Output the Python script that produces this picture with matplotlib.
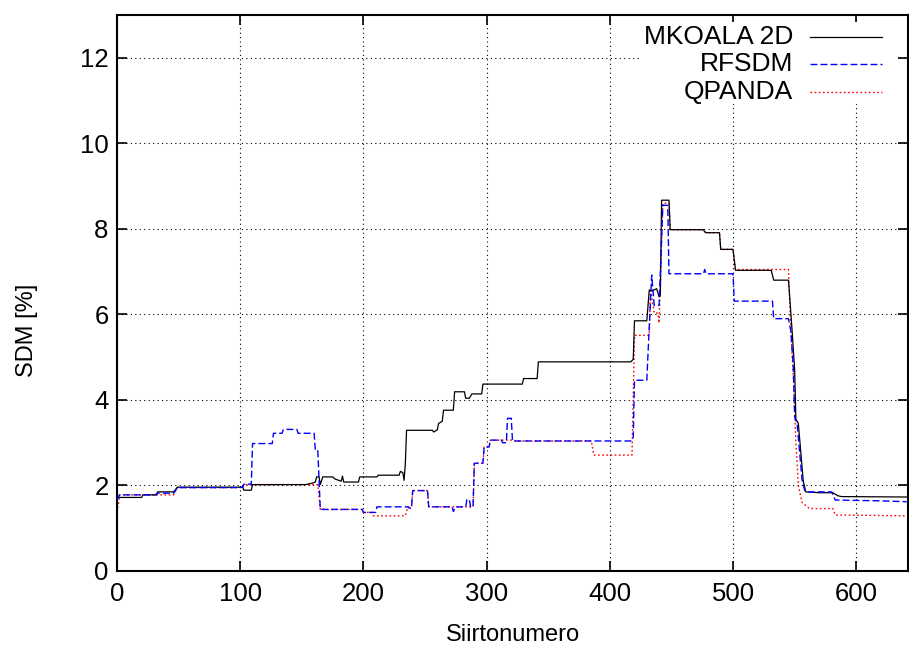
import matplotlib
matplotlib.use("Agg")
import matplotlib.pyplot as plt
from matplotlib.patches import Rectangle

plt.rcParams['font.family'] = ['Liberation Sans', 'DejaVu Sans']

# ---------------- data ----------------
mkoala_x = [0, 20, 21, 32, 33, 46, 49, 102, 103, 109, 110, 153, 158, 161, 162, 164, 165, 167, 175, 177,
            180, 182, 183, 184, 196, 197, 211, 212, 229, 230, 232, 233, 234, 235, 256, 257, 260, 261, 264, 265,
            273, 274, 282, 283, 286, 288, 296, 297, 329, 330, 341, 342, 417, 419, 420, 430, 432, 434, 438, 440,
            441, 442, 448, 449, 476, 477, 478, 489, 490, 500, 502, 531, 533, 545, 548, 550, 551, 553, 557, 559,
            570, 581, 585, 588, 641]
mkoala_y = [1.72, 1.72, 1.78, 1.78, 1.85, 1.85, 1.96, 1.96, 1.89, 1.89, 2.02, 2.02, 2.05, 2.08, 2.2, 2.2, 2.02, 2.2, 2.2, 2.15,
            2.12, 2.1, 2.22, 2.08, 2.08, 2.2, 2.2, 2.24, 2.24, 2.33, 2.3, 2.12, 2.5, 3.29, 3.29, 3.25, 3.3, 3.45, 3.5, 3.76,
            3.76, 4.19, 4.19, 4.04, 4.04, 4.14, 4.14, 4.37, 4.37, 4.5, 4.5, 4.89, 4.89, 4.95, 5.85, 5.85, 6.57, 6.55, 6.6, 6.41,
            6.45, 8.67, 8.67, 7.98, 7.98, 7.93, 7.91, 7.91, 7.52, 7.52, 7.03, 7.03, 6.8, 6.8, 5.59, 4.7, 3.55, 3.45, 2.1, 1.85,
            1.83, 1.83, 1.76, 1.74, 1.73]

rfsdm_x = [0, 2, 31, 33, 46, 49, 97, 98, 102, 103, 109, 110, 126, 127, 134, 135, 146, 147, 160, 161,
           163, 165, 199, 200, 210, 211, 236, 237, 239, 240, 252, 253, 272, 273, 275, 283, 284, 286, 287, 289,
           290, 297, 298, 302, 303, 312, 313, 316, 317, 320, 321, 417, 419, 420, 430, 432, 434, 436, 440, 443,
           447, 448, 476, 477, 478, 500, 501, 532, 533, 545, 547, 549, 550, 552, 556, 558, 559, 580, 583, 620,
           641]
rfsdm_y = [1.65, 1.78, 1.78, 1.82, 1.82, 1.95, 1.95, 1.96, 1.96, 2.03, 2.03, 2.98, 2.98, 3.22, 3.22, 3.31, 3.31, 3.22, 3.22, 2.81,
           2.81, 1.44, 1.44, 1.37, 1.37, 1.5, 1.5, 1.47, 1.47, 1.88, 1.88, 1.5, 1.5, 1.39, 1.5, 1.5, 1.67, 1.67, 1.5, 1.5,
           2.52, 2.52, 2.9, 2.9, 3.06, 3.06, 3.0, 3.0, 3.57, 3.57, 3.04, 3.04, 3.1, 4.46, 4.46, 5.71, 6.92, 6.21, 6.21, 8.55,
           8.55, 6.95, 6.95, 7.05, 6.95, 6.95, 6.31, 6.31, 5.9, 5.9, 5.6, 4.7, 3.6, 3.45, 2.13, 1.9, 1.85, 1.85, 1.66, 1.64,
           1.62]

qpanda_x = [0, 1, 2, 46, 49, 102, 103, 163, 165, 199, 200, 207, 208, 234, 236, 239, 240, 252, 253, 289,
            290, 297, 298, 302, 303, 320, 321, 385, 387, 418, 420, 432, 433, 436, 439, 440, 443, 448, 449, 476,
            478, 489, 490, 500, 502, 545, 547, 549, 551, 552, 553, 556, 559.5, 562, 581, 583, 641]
qpanda_y = [1.5, 1.5, 1.78, 1.78, 1.95, 1.95, 2.02, 2.02, 1.44, 1.44, 1.37, 1.37, 1.29, 1.29, 1.5, 1.5, 1.88, 1.88, 1.5, 1.5,
            2.52, 2.52, 2.9, 2.9, 3.06, 3.06, 3.04, 3.04, 2.71, 2.71, 5.51, 5.51, 6.6, 6.03, 6.03, 5.8, 8.6, 8.6, 7.98, 7.98,
            7.91, 7.91, 7.52, 7.52, 7.05, 7.05, 5.6, 4.5, 3.0, 2.52, 2.0, 1.6, 1.52, 1.46, 1.46, 1.31, 1.29]

labels = ["MKOALA 2D", "RFSDM", "QPANDA"]
xticks = [0, 100, 200, 300, 400, 500, 600]
yticks = [0, 2, 4, 6, 8, 10, 12]

# ---------------- figure ----------------
fig = plt.figure(figsize=(9.09, 6.49), dpi=100)
ax = fig.add_axes([117/909, 1-571/649, 791/909, 556/649])

styles = [
    dict(color="black", lw=0.9, ls="-", zorder=3),
    dict(color="#0000ff", lw=1.0, ls=(0, (5, 2.2)), zorder=4),
    dict(color="#ff0000", lw=1.0, ls=(0, (1.2, 1.8)), zorder=2),
]
series = [(mkoala_x, mkoala_y), (rfsdm_x, rfsdm_y), (qpanda_x, qpanda_y)]
for (xs, ys), st in zip(series, styles):
    ax.plot(xs, ys, **st)

ax.set_xlim(0, 642)
ax.set_ylim(0, 13)
ax.set_xticks(xticks)
ax.set_yticks(yticks)
ax.tick_params(direction="in", length=7, width=1.2, top=True, right=True,
               labelsize=18.5)
ax.tick_params(axis="x", pad=8)
ax.tick_params(axis="y", pad=6)
for s in ax.spines.values():
    s.set_linewidth(1.5)
ax.set_axisbelow(True)
ax.grid(True, color="black", lw=0.8, ls=(0, (1, 3)))

ax.set_xlabel("Siirtonumero", fontsize=17, labelpad=13)
ax.set_ylabel("SDM [%]", fontsize=17)
ax.yaxis.set_label_coords((38-117)/791, (571-330)/556)

# legend (gnuplot-style: right-aligned text, sample line to the right)
ax.add_patch(Rectangle(((640-117)/791, (571-104)/556), (898-640)/791, (104-22)/556,
                       transform=ax.transAxes, facecolor="white", edgecolor="none", zorder=1))
rows_y = [(571-37)/556, (571-64)/556, (571-92)/556]
for lab, st, yy in zip(labels, styles, rows_y):
    ax.text((793-117)/791, yy, lab, transform=ax.transAxes, ha="right", va="center",
            fontsize=19, zorder=5)
    ax.plot([(810-117)/791, (882-117)/791], [yy, yy], transform=ax.transAxes,
            color=st["color"], lw=st["lw"], ls=st["ls"], zorder=5)

fig.savefig("out.png", dpi=100)
